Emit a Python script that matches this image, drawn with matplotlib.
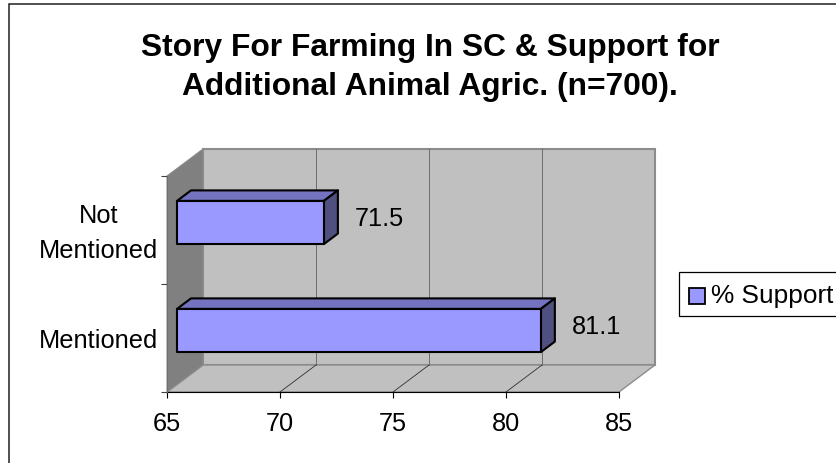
import matplotlib
matplotlib.use("Agg")
import matplotlib.pyplot as plt
from matplotlib.patches import Polygon, Rectangle
from matplotlib.transforms import ScaledTranslation

categories = ["Mentioned", "Not\nMentioned"]
support = [81.1, 71.5]
series_name = "% Support"
title_lines = "Story For Farming In SC & Support for\nAdditional Animal Agric. (n=700)."
x_ticks = [65, 70, 75, 80, 85]

W, H = 837, 464
plt.rcParams["font.family"] = ["Liberation Sans", "DejaVu Sans"]

fig = plt.figure(figsize=(W / 100, H / 100), dpi=100, facecolor="white")

# Full-figure pixel layer for the outer frame, title and legend
bg = fig.add_axes([0, 0, 1, 1], zorder=0)
bg.set_xlim(0, W); bg.set_ylim(H, 0); bg.axis("off")
bg.add_patch(Rectangle((9, 5), W + 10, H + 10, fc="white", ec="#202020", lw=1.1, clip_on=False))
bg.text(430, 67.5, title_lines, ha="center", va="center", fontsize=22.9, fontweight="bold",
        linespacing=1.42, color="black")

# Front plane of the 3-D box is the data axes
L, R, T, B = 167, 619, 177, 393
ax = fig.add_axes([L / W, 1 - B / H, (R - L) / W, (B - T) / H], zorder=1)
ax.set_xlim(65, 85)
ax.set_ylim(0, 2)
ax.patch.set_visible(False)
for s in ax.spines.values():
    s.set_visible(False)

DX = 36 / (R - L) * 20   # depth shift in x data units
DY = 27 / (B - T) * 2    # depth shift in y data units

def sh(x, y, d):
    return (x + d * DX, y + d * DY)

wall = "#c0c0c0"; side = "#808080"; edge = "#8c8c8c"
ax.add_patch(Polygon([sh(65, 0, 1), sh(85, 0, 1), sh(85, 2, 1), sh(65, 2, 1)],
                     fc=wall, ec=edge, lw=1.5, clip_on=False, joinstyle="miter"))
ax.add_patch(Polygon([sh(65, 0, 0), sh(85, 0, 0), sh(85, 0, 1), sh(65, 0, 1)],
                     fc=wall, ec=edge, lw=1.0, clip_on=False))
ax.add_patch(Polygon([sh(65, 0, 0), sh(65, 0, 1), sh(65, 2, 1), sh(65, 2, 0)],
                     fc=side, ec=edge, lw=0.8, clip_on=False))
for t in x_ticks[1:-1]:
    ax.plot(*zip(sh(t, 0, 0), sh(t, 0, 1)), color="#303030", lw=0.6, clip_on=False)
    ax.plot(*zip(sh(t, 0, 1), sh(t, 2, 1)), color="#606060", lw=0.6, clip_on=False)
ax.plot([65, 85], [0, 0], color="black", lw=0.8, clip_on=False)
ax.plot([65, 65], [0, 2], color="#707070", lw=0.7, clip_on=False)

# Bars
face = "#9999ff"; top = "#7373bf"; right = "#4f4f80"
d0, d1 = 10 / 36, 24 / 36
bar_h = 0.40
for i, v in enumerate(support):
    y0, y1 = i + 0.5 - bar_h / 2, i + 0.5 + bar_h / 2
    kw = dict(ec="black", lw=1.5, clip_on=False, joinstyle="round", zorder=3)
    ax.add_patch(Polygon([sh(65, y1, d0), sh(v, y1, d0), sh(v, y1, d1), sh(65, y1, d1)], fc=top, **kw))
    ax.add_patch(Polygon([sh(v, y0, d0), sh(v, y0, d1), sh(v, y1, d1), sh(v, y1, d0)], fc=right, **kw))
    ax.add_patch(Polygon([sh(65, y0, d0), sh(v, y0, d0), sh(v, y1, d0), sh(65, y1, d0)], fc=face, **kw))
    lx, ly = sh(v, i + 0.5, d1)
    ax.annotate(f"{v}", (lx, ly), xytext=(17, -6), textcoords="offset pixels", ha="left",
                va="center", fontsize=18.3, color="black", annotation_clip=False, zorder=4)

ax.set_xticks(x_ticks)
ax.set_xticklabels([str(t) for t in x_ticks], fontsize=18.3)
ax.set_yticks([0, 1, 2])
ax.set_yticklabels([])
ax.set_yticks([0.5, 1.5], minor=True)
ax.set_yticklabels(categories, minor=True, fontsize=18.3, ha="center", va="center", linespacing=1.55)
ax.tick_params(axis="y", which="minor", length=0, pad=49.2)
ax.tick_params(axis="y", which="major", length=4.5, width=0.8, color="#404040")
ax.tick_params(axis="x", length=4.5, width=0.8, pad=9)
down = ScaledTranslation(0, -2.5 / 100, fig.dpi_scale_trans)
for lbl in ax.get_yticklabels(minor=True):
    lbl.set_transform(lbl.get_transform() + down)

# Legend
lg_x0, lg_y0, lg_x1, lg_y1 = 679, 273, 850, 317
bg.add_patch(Rectangle((lg_x0, lg_y0), lg_x1 - lg_x0, lg_y1 - lg_y0, fc="white", ec="black", lw=0.9, clip_on=False))
bg.add_patch(Rectangle((689, 289), 16, 16, fc=face, ec="black", lw=1.3))
bg.text(711, 296.5, series_name, ha="left", va="center", fontsize=18.9, color="black")

fig.savefig("out.png", dpi=100)
